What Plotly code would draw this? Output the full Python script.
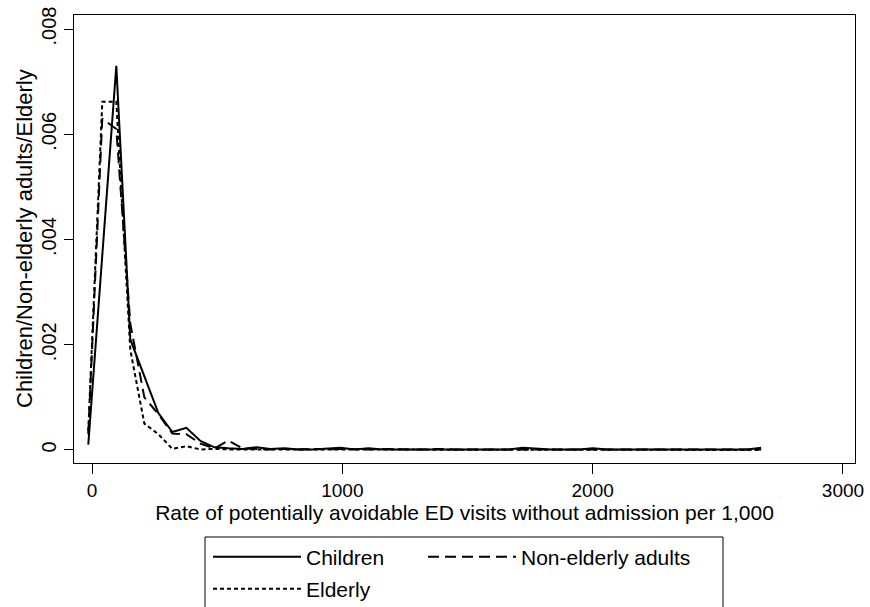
import plotly.graph_objects as go

# Bin midpoints (rate per 1,000)
rate = [-15, 41, 97, 153, 209, 265, 321, 377, 433, 489, 545, 601, 657, 713, 769,
        825, 881, 937, 993, 1049, 1105, 1161, 1217, 1273, 1329, 1385, 1441, 1497,
        1553, 1609, 1665, 1721, 1777, 1833, 1889, 1945, 2001, 2057, 2113, 2169,
        2225, 2281, 2337, 2393, 2449, 2505, 2561, 2617, 2673]

children = [0.0001, 0.0037, 0.0073, 0.0021, 0.0014, 0.0007, 0.00034, 0.00042,
            0.00017, 0.00005, 0.00003, 0.00002, 0.00005, 0.00002, 0.00003,
            0.00001, 0.00001, 0.00003, 0.00004, 0.00001, 0.00003, 0.00001,
            0.00001, 0.00002, 0.00001, 0.00001, 0.00002, 0.00001, 0.00001,
            0.00001, 0.00001, 0.00004, 0.00002, 0.00001, 0.00001, 0.00001,
            0.00003, 0.00001, 0.00001, 0.00001, 0.00002, 0.00001, 0.00001,
            0.00001, 0.00001, 0.00001, 0.00001, 0.00001, 0.00004]

non_elderly = [0.0003, 0.0063, 0.0061, 0.0024, 0.0010, 0.00068, 0.00031, 0.00030,
               0.00012, 0.00003, 0.00018, 0.00003, 0.00002, 0.00001, 0.00002,
               0.00001, 0.00002, 0.00001, 0.00002, 0.00001, 0.00001, 0.00002,
               0.00001, 0.00001, 0.00001, 0.00002, 0.00001, 0.00001, 0.00001,
               0.00001, 0.00001, 0.00002, 0.00001, 0.00001, 0.00001, 0.00001,
               0.00001, 0.00001, 0.00001, 0.00001, 0.00001, 0.00001, 0.00001,
               0.00001, 0.00001, 0.00001, 0.00001, 0.00001, 0.00001]

elderly = [0.00036, 0.00662, 0.00662, 0.0019, 0.0005, 0.0003, 0.00002, 0.00007,
           0.00001, 0.00002, 0.00001, 0.00001, 0.00001, 0.0, 0.00001, 0.0,
           0.00001, 0.0, 0.0, 0.00001, 0.0, 0.0, 0.0, 0.00001, 0.0, 0.0, 0.0,
           0.0, 0.0, 0.0, 0.0, 0.00001, 0.0, 0.0, 0.0, 0.0, 0.0, 0.0, 0.0, 0.0,
           0.0, 0.0, 0.0, 0.0, 0.0, 0.0, 0.0, 0.0, 0.0]

x_ticks = [0, 1000, 2000, 3000]
y_ticks = [0, 0.002, 0.004, 0.006, 0.008]
y_ticktext = ["0", ".002", ".004", ".006", ".008"]

FONT = "Liberation Sans, Arial, sans-serif"
W, H = 870, 607
L, R, T, B = 74, 15, 15, 144
plot_w = W - L - R
plot_h = H - T - B

fig = go.Figure()
fig.add_trace(go.Scatter(x=rate, y=children, mode="lines", name="Children",
                         line=dict(color="black", width=2, dash="solid"),
                         legend="legend"))
fig.add_trace(go.Scatter(x=rate, y=non_elderly, mode="lines", name="Non-elderly adults",
                         line=dict(color="black", width=2, dash="11px,6px"),
                         legend="legend2"))
fig.add_trace(go.Scatter(x=rate, y=elderly, mode="lines", name="Elderly",
                         line=dict(color="black", width=2, dash="4px,3px"),
                         legend="legend3"))


def leg(px, py):
    return dict(x=px / W, y=1 - py / H, xref="container", yref="container",
                xanchor="left", yanchor="middle", bgcolor="rgba(0,0,0,0)",
                borderwidth=0, itemwidth=88,
                font=dict(family=FONT, size=21, color="black"))


fig.update_layout(
    width=W, height=H,
    margin=dict(l=L, r=R, t=T, b=B, autoexpand=False),
    paper_bgcolor="white", plot_bgcolor="white",
    font=dict(family=FONT, color="black"),
    showlegend=True,
    legend=leg(208, 557),
    legend2=leg(423, 557),
    legend3=leg(208, 589),
    xaxis=dict(range=[-72, 3048], tickvals=x_ticks, ticks="outside", ticklen=10,
               tickwidth=1, tickcolor="black", showline=True, mirror=True,
               linecolor="black", linewidth=1, showgrid=False, zeroline=False,
               tickfont=dict(family=FONT, size=19, color="black"),
               title=dict(text="Rate of potentially avoidable ED visits without admission per 1,000",
                          font=dict(family=FONT, size=21, color="black"), standoff=2)),
    yaxis=dict(range=[-0.000248, 0.008267], tickvals=y_ticks, ticktext=y_ticktext,
               tickangle=-90, ticks="outside", ticklen=9, tickwidth=1, tickcolor="black",
               showline=True, mirror=True, linecolor="black", linewidth=1,
               showgrid=False, zeroline=False,
               tickfont=dict(family=FONT, size=20, color="black")),
    annotations=[dict(text="Children/Non-elderly adults/Elderly", textangle=-90,
                      xref="paper", yref="paper", x=(24 - L) / plot_w, y=0.5,
                      xanchor="center", yanchor="middle", showarrow=False,
                      font=dict(family=FONT, size=22, color="black"))],
    shapes=[dict(type="rect", xref="paper", yref="paper",
                 x0=(205 - L) / plot_w, x1=(723 - L) / plot_w,
                 y0=(T + plot_h - 537) / plot_h, y1=(T + plot_h - 640) / plot_h,
                 line=dict(color="black", width=1), fillcolor="rgba(0,0,0,0)")],
)

fig.write_html("out.html")
